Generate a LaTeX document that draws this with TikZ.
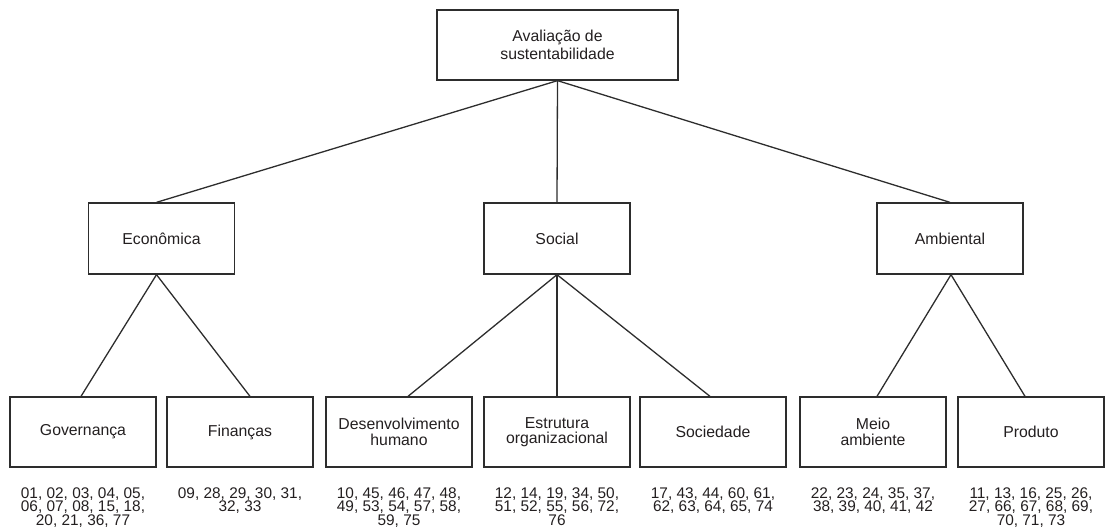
\documentclass[tikz,border=0pt]{standalone}
\usepackage{fontspec}
\setmainfont{Liberation Sans}
\definecolor{linec}{RGB}{45,45,45}
\definecolor{textc}{RGB}{35,31,32}
\begin{document}
\begin{tikzpicture}[x=1pt,y=-1pt,
  box/.style={draw=linec, line width=1.3pt, minimum width=146pt, minimum height=70pt,
    inner sep=0pt, align=center, text=textc, font=\fontsize{15.8}{15.5}\selectfont},
  nums/.style={anchor=north, inner sep=0pt, align=center, text=textc,
    font=\fontsize{15.4}{13.8}\selectfont},
  conn/.style={draw=linec, line width=1.3pt}]
\useasboundingbox (0,0) rectangle (1106,530);
% top
\node[box, minimum width=241pt, font=\fontsize{15.8}{18}\selectfont] (top) at (557.5,45) {Avaliação de\\sustentabilidade};
% middle
\node[box, minimum height=71pt] (eco) at (161.5,238.5) {Econômica};
\node[box, minimum height=71pt] (soc) at (557,238.5) {Social};
\node[box, minimum height=71pt] (amb) at (950,238.5) {Ambiental};
% bottom
\node[box] (gov) at (83,432) {Governança};
\node[box] (fin) at (240,432) {Finanças};
\node[box] (des) at (399,432) {Desenvolvimento\\humano};
\node[box] (est) at (557,432) {Estrutura\\organizacional};
\node[box] (soci) at (713,432) {Sociedade};
\node[box] (mei) at (873,432) {Meio\\ambiente};
\node[box] (pro) at (1031,432) {Produto};
% numbers
\node[nums] (ngov) at ([yshift=-19.5pt]gov.south) {01, 02, 03, 04, 05,\\06, 07, 08, 15, 18,\\20, 21, 36, 77};
\node[nums] (nfin) at ([yshift=-19.5pt]fin.south) {09, 28, 29, 30, 31,\\32, 33};
\node[nums] (ndes) at ([yshift=-19.5pt]des.south) {10, 45, 46, 47, 48,\\49, 53, 54, 57, 58,\\59, 75};
\node[nums] (nest) at ([yshift=-19.5pt]est.south) {12, 14, 19, 34, 50,\\51, 52, 55, 56, 72,\\76};
\node[nums] (nsoci) at ([yshift=-19.5pt]soci.south) {17, 43, 44, 60, 61,\\62, 63, 64, 65, 74};
\node[nums] (nmei) at ([yshift=-19.5pt]mei.south) {22, 23, 24, 35, 37,\\38, 39, 40, 41, 42};
\node[nums] (npro) at ([yshift=-19.5pt]pro.south) {11, 13, 16, 25, 26,\\27, 66, 67, 68, 69,\\70, 71, 73};
% connectors
\draw[conn] (top.south) -- ([xshift=-5pt]eco.north);
\draw[conn] (top.south) -- (soc.north);
\draw[conn] (top.south) -- (amb.north);
\draw[conn] ([xshift=-5pt]eco.south) -- ([xshift=-2pt]gov.north);
\draw[conn] ([xshift=-5pt]eco.south) -- ([xshift=10pt]fin.north);
\draw[conn] (soc.south) -- ([xshift=9pt]des.north);
\draw[conn] (soc.south) -- (est.north);
\draw[conn] (soc.south) -- ([xshift=-3pt]soci.north);
\draw[conn] ([xshift=1pt]amb.south) -- ([xshift=4pt]mei.north);
\draw[conn] ([xshift=1pt]amb.south) -- ([xshift=-6pt]pro.north);
\end{tikzpicture}
\end{document}
